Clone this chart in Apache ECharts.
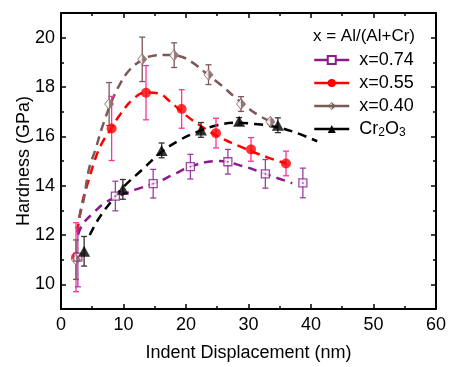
<!DOCTYPE html>
<html>
<head>
<meta charset="utf-8">
<script src="https://cdn.jsdelivr.net/npm/echarts@6/dist/echarts.min.js"></script>
<style>
  html, body { margin: 0; padding: 0; background: #fff; }
  #chart { width: 449px; height: 367px; }
</style>
</head>
<body>
<div id="chart"></div>
<script>
// measured points (x = indent displacement nm, h = hardness GPa, e = error)
const x74 = [2.7, 8.7, 14.75, 20.7, 26.7, 32.7, 38.7];
const h74 = [11.1, 13.58, 14.08, 14.77, 14.97, 14.48, 14.11];
const e74 = [1.2, 0.6, 0.58, 0.5, 0.5, 0.58, 0.6];

const x55 = [2.4, 8.1, 13.6, 19.3, 24.8, 30.4, 36.0];
const h55 = [11.1, 16.32, 17.77, 17.11, 16.13, 15.47, 14.9];
const e55 = [1.4, 1.3, 1.1, 0.78, 0.6, 0.48, 0.5];

const x40 = [2.4, 7.7, 13.0, 18.1, 23.6, 28.8, 33.5];
const h40 = [11.0, 17.31, 19.12, 19.29, 18.5, 17.31, 16.59];
const e40 = [0.8, 0.87, 0.9, 0.5, 0.4, 0.3, 0.1];

const xCr = [3.7, 9.9, 16.1, 22.4, 28.5, 34.7];
const hCr = [11.34, 13.85, 15.43, 16.26, 16.61, 16.45];
const eCr = [0.6, 0.4, 0.3, 0.3, 0.15, 0.3];

// dashed fit curves
const fit74x = [2.7, 3.5, 5, 7, 9, 12, 15, 18, 21, 25, 29, 33, 37];
const fit74y = [12.0, 12.45, 12.85, 13.3, 13.55, 13.85, 14.1, 14.45, 14.8, 15.0, 14.8, 14.45, 14.1];
const fit55x = [2.6, 3.3, 4.4, 5.5, 6.5, 8, 9.5, 11.5, 13.5, 15.5, 17.5, 20, 22.5, 25.5, 29, 33, 36];
const fit55y = [12.1, 13.2, 14.2, 15.1, 15.7, 16.3, 16.9, 17.5, 17.78, 17.75, 17.4, 16.85, 16.4, 15.95, 15.55, 15.15, 14.9];
const fit40x = [2.9, 3.6, 4.5, 5.5, 6.5, 8, 9.5, 11, 13, 15, 17, 19, 21, 23, 25.5, 28, 31, 33.5];
const fit40y = [12.7, 13.4, 14.7, 15.45, 16.3, 17.35, 18.15, 18.7, 19.1, 19.28, 19.3, 19.25, 19.0, 18.6, 18.1, 17.55, 16.95, 16.6];
const fitCrx = [4.6, 6, 8, 10, 13, 16, 19, 22, 25, 28, 31, 34, 37, 41];
const fitCry = [12.0, 12.65, 13.35, 13.95, 14.65, 15.35, 15.85, 16.2, 16.45, 16.55, 16.5, 16.4, 16.2, 15.8];

const xTicks = [0, 10, 20, 30, 40, 50, 60];
const yMajor = [10, 12, 14, 16, 18, 20];
const yMinor = [9, 11, 13, 15, 17, 19, 21];

const PURPLE = '#8b1a8b', RED = '#ff0000', BROWN = '#7d5858', BLACK = '#000';
const FONT = 'Liberation Sans, Arial, sans-serif';
const HALF_DIAMOND = 'path://M5,0 L10,5 L5,10 Z M5,0 L0,5 L5,10 L5,9 L1,5 L5,1 Z';

const zip = (...cols) => cols[0].map((_, i) => cols.map((c) => c[i]));

const fitLine = (name, xs, ys, color, symbol, itemStyle) => ({
  name,
  type: 'line',
  data: zip(xs, ys),
  smooth: 0.4,
  showSymbol: false,
  symbol,
  itemStyle,
  lineStyle: { color, width: 2.5, type: [9, 6] },
  z: 2,
  silent: true,
});

const errBars = (name, xs, ys, es, color) => ({
  name,
  type: 'custom',
  data: zip(xs, ys, es),
  encode: { x: 0, y: 1 },
  z: 3,
  silent: true,
  renderItem: (params, api) => {
    const x = api.value(0), y = api.value(1), e = api.value(2);
    const top = api.coord([x, y + e]);
    const bot = api.coord([x, y - e]);
    const st = { stroke: color, lineWidth: 1.3 };
    return {
      type: 'group',
      children: [
        { type: 'line', shape: { x1: top[0], y1: top[1], x2: bot[0], y2: bot[1] }, style: st },
        { type: 'line', shape: { x1: top[0] - 3, y1: top[1], x2: top[0] + 3, y2: top[1] }, style: st },
        { type: 'line', shape: { x1: bot[0] - 3, y1: bot[1], x2: bot[0] + 3, y2: bot[1] }, style: st },
      ],
    };
  },
});

const xAxisBase = {
  type: 'value',
  min: 0,
  max: 60,
  interval: 10,
  axisLine: { onZero: false, lineStyle: { color: BLACK, width: 2 } },
  axisTick: { inside: true, length: 5, lineStyle: { color: BLACK, width: 1.5 } },
  minorTick: { show: true, splitNumber: 2, length: 3, lineStyle: { color: BLACK, width: 1.5 } },
  splitLine: { show: false },
};

const yAxisBase = (position, values, len, showLine, labels) => ({
  type: 'value',
  position,
  min: 9,
  max: 21,
  axisLine: { show: showLine, onZero: false, lineStyle: { color: BLACK, width: 2 } },
  axisTick: { show: true, inside: true, length: len, customValues: values, lineStyle: { color: BLACK, width: 1.5 } },
  axisLabel: labels
    ? { show: true, customValues: yMajor, color: BLACK, fontSize: 18, fontFamily: FONT, margin: 6 }
    : { show: false },
  splitLine: { show: false },
});

const chart = echarts.init(document.getElementById('chart'), null, { renderer: 'canvas' });

chart.setOption({
  animation: false,
  backgroundColor: '#fff',
  grid: { left: 61, right: 11, top: 13, bottom: 52 },
  title: {
    text: 'x = Al/(Al+Cr)',
    left: 313,
    top: 28,
    padding: 0,
    textStyle: { color: BLACK, fontSize: 17, fontWeight: 'normal', fontFamily: FONT },
  },
  legend: {
    orient: 'vertical',
    left: 313,
    top: 51,
    padding: 0,
    itemWidth: 35,
    itemHeight: 10,
    itemGap: 5,
    data: ['x=0.74', 'x=0.55', 'x=0.40', 'Cr2O3'],
    lineStyle: { type: 'solid', width: 2.5 },
    textStyle: {
      color: BLACK,
      fontSize: 18,
      fontFamily: FONT,
      lineHeight: 18,
      padding: [0, 0, 0, 5],
      rich: {
        n: { fontSize: 18, fontFamily: FONT, color: BLACK },
        s: { fontSize: 12, fontFamily: FONT, color: BLACK, padding: [8, 0, 0, 0] },
      },
    },
    formatter: (name) => (name === 'Cr2O3' ? '{n|Cr}{s|2}{n|O}{s|3}' : name),
  },
  xAxis: [
    {
      ...xAxisBase,
      position: 'bottom',
      axisLabel: { color: BLACK, fontSize: 18, fontFamily: FONT, margin: 7, customValues: xTicks },
      name: 'Indent Displacement (nm)',
      nameLocation: 'middle',
      nameGap: 35,
      nameMoveOverlap: false,
      nameTextStyle: { color: BLACK, fontSize: 18, fontFamily: FONT },
    },
    { ...xAxisBase, position: 'top', axisLabel: { show: false } },
  ],
  yAxis: [
    {
      ...yAxisBase('left', yMajor, 5, true, true),
      name: 'Hardness (GPa)',
      nameLocation: 'middle',
      nameGap: 28,
      nameMoveOverlap: false,
      nameTextStyle: { color: BLACK, fontSize: 18, fontFamily: FONT },
    },
    yAxisBase('left', yMinor, 3, false, false),
    yAxisBase('right', yMajor, 5, true, false),
    yAxisBase('right', yMinor, 3, false, false),
  ],
  series: [
    fitLine('x=0.74', fit74x, fit74y, PURPLE, 'rect', { color: '#fff', borderColor: PURPLE, borderWidth: 1.3 }),
    fitLine('x=0.55', fit55x, fit55y, RED, 'circle', { color: RED }),
    fitLine('x=0.40', fit40x, fit40y, BROWN, HALF_DIAMOND, { color: BROWN }),
    fitLine('Cr2O3', fitCrx, fitCry, BLACK, 'triangle', { color: BLACK }),

    errBars('x=0.55', x55, h55, e55, '#ff3399'),
    errBars('x=0.40', x40, h40, e40, BROWN),
    errBars('x=0.74', x74, h74, e74, '#9b3fa6'),
    errBars('Cr2O3', xCr, hCr, eCr, '#333'),

    { name: 'x=0.55', type: 'scatter', data: zip(x55, h55), symbol: 'circle', symbolSize: 10,
      itemStyle: { color: RED }, z: 4, silent: true },
    { name: 'x=0.40', type: 'scatter', data: zip(x40, h40), symbol: 'diamond', symbolSize: [9, 11],
      itemStyle: { color: '#fff' }, z: 4, silent: true },
    { name: 'x=0.40', type: 'scatter', data: zip(x40, h40), symbol: HALF_DIAMOND, symbolSize: [10, 12],
      itemStyle: { color: BROWN }, z: 5, silent: true },
    { name: 'x=0.74', type: 'scatter', data: zip(x74, h74), symbol: 'rect', symbolSize: 8,
      itemStyle: { color: '#fff', borderColor: PURPLE, borderWidth: 1.3 }, z: 4, silent: true },
    { name: 'x=0.74', type: 'scatter', data: zip(x74, h74), symbol: 'rect', symbolSize: 1.5,
      itemStyle: { color: PURPLE }, z: 5, silent: true },
    { name: 'Cr2O3', type: 'scatter', data: zip(xCr, hCr), symbol: 'triangle', symbolSize: [12, 11],
      itemStyle: { color: BLACK }, z: 4, silent: true },
  ],
});
</script>
</body>
</html>
